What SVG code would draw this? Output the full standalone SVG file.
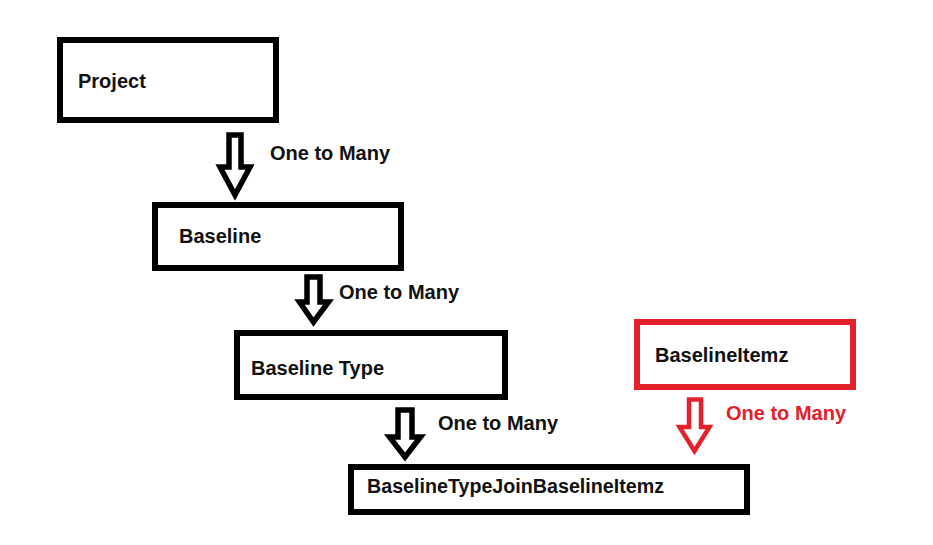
<svg xmlns="http://www.w3.org/2000/svg" width="933" height="545" viewBox="0 0 933 545">
<style>
.box{fill:#fff;stroke:#000;stroke-width:6}
.red{stroke:#e4202a}
.t{font-family:"Liberation Sans",Arial,sans-serif;font-weight:bold;font-size:20px;fill:#111}
.lbl{font-family:"Liberation Sans",Arial,sans-serif;font-weight:bold;font-size:20px;fill:#111}
.rl{fill:#e4202a}
.arr{fill:#fff;stroke:#000;stroke-width:5.5;stroke-linejoin:miter;stroke-miterlimit:10}
.ra{stroke:#e4202a;stroke-width:4.5}
</style>
<rect width="933" height="545" fill="#fff"/>
<g id="project"><rect class="box" x="60" y="40" width="216" height="80"/><text class="t" x="78" y="88">Project</text></g>
<g id="baseline"><rect class="box" x="155" y="205" width="246" height="63"/><text class="t" x="179" y="243">Baseline</text></g>
<g id="baselinetype"><rect class="box" x="237" y="333" width="268" height="64"/><text class="t" x="251" y="375">Baseline Type</text></g>
<g id="join"><rect class="box" x="351" y="467" width="396" height="45"/><text class="t" x="367" y="493" textLength="297" lengthAdjust="spacingAndGlyphs">BaselineTypeJoinBaselineItemz</text></g>
<g id="baselineitemz"><rect class="box red" x="637" y="322" width="216" height="65"/><text class="t" x="655" y="362">BaselineItemz</text></g>
<g id="connectors">
<path class="arr" d="M229,135 L241,135 L241,167 L250,167 L235,195 L220,167 L229,167 Z"/>
<text class="lbl" x="270" y="160">One to Many</text>
<path class="arr" d="M307,277 L320,277 L320,302 L328.5,302 L313.5,322 L299.5,302 L307,302 Z"/>
<text class="lbl" x="339" y="299">One to Many</text>
<path class="arr" d="M398,410 L412,410 L412,437 L420.5,437 L405,457 L389.5,437 L398,437 Z"/>
<text class="lbl" x="438" y="430">One to Many</text>
<path class="arr ra" d="M689,399.5 L701,399.5 L701,427 L709.5,427 L694.5,451 L679.5,427 L689,427 Z"/>
<text class="lbl rl" x="726" y="420">One to Many</text>
</g>
</svg>
